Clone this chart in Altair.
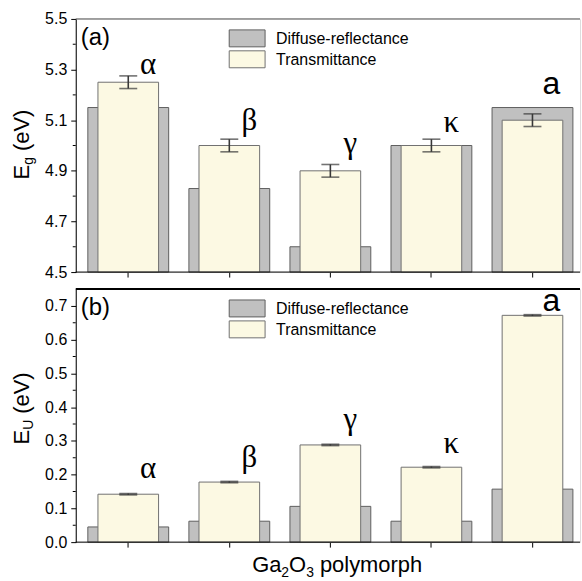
import altair as alt
import pandas as pd

# ---- data -------------------------------------------------------------
polymorphs = ["α", "β", "γ", "κ", "a"]
series_names = ["Diffuse-reflectance", "Transmittance"]

# (a) optical band gap E_g (eV)
eg_diffuse = [5.15, 4.83, 4.60, 5.00, 5.15]
eg_trans = [5.25, 5.00, 4.90, 5.00, 5.10]
eg_err = [0.025, 0.025, 0.025, 0.025, 0.025]
eg_label_y = [5.283, 5.063, 4.972, 5.055, 5.205]
eg_major = [4.5, 4.7, 4.9, 5.1, 5.3, 5.5]
eg_minor = [4.6, 4.8, 5.0, 5.2, 5.4]

# (b) Urbach energy E_U (eV)
eu_diffuse = [0.045, 0.062, 0.106, 0.062, 0.157]
eu_trans = [0.142, 0.178, 0.288, 0.222, 0.672]
eu_err = [0.002, 0.002, 0.002, 0.002, 0.002]
eu_label_y = [0.189, 0.224, 0.336, 0.265, 0.684]
eu_major = [0.0, 0.1, 0.2, 0.3, 0.4, 0.5, 0.6, 0.7]
eu_minor = [0.05, 0.15, 0.25, 0.35, 0.45, 0.55, 0.65]

# ---- style ------------------------------------------------------------
W, H = 506, 254
GRAY, GRAY_EDGE = "#c0c0c0", "#5e5e5e"
CREAM, CREAM_EDGE = "#fcf9e3", "#707070"
ERR = "#383838"
SANS, SERIF = "Liberation Sans", "Liberation Serif"
TITLE_SIZE, SUB_SIZE = 22, 14


def one_row():
    return alt.Chart(pd.DataFrame({"k": [0]}))


def text_piece(txt, x, y, size, angle=0, baseline="alphabetic"):
    return one_row().mark_text(
        text=txt, font=SANS, fontSize=size, color="black",
        align="left", baseline=baseline, angle=angle,
    ).encode(x=alt.value(x), y=alt.value(y))


def panel(diffuse, trans, err, label_y, major, minor, domain,
          tag, sub, title_start, border_color, border_width, extra):
    df = pd.DataFrame({
        "polymorph": polymorphs,
        "diffuse": diffuse,
        "trans": trans,
        "err": err,
        "label_y": label_y,
    })
    df["lo"] = df["trans"] - df["err"]
    df["hi"] = df["trans"] + df["err"]
    df["base"] = domain[0]

    x = alt.X(
        "polymorph:N", sort=polymorphs,
        scale=alt.Scale(range=[2, 509], paddingInner=0, paddingOuter=0),
        axis=alt.Axis(title=None, labels=False, domain=False, ticks=True,
                      tickSize=5, tickColor="black", tickWidth=1, grid=False),
    )
    yscale = alt.Scale(domain=domain, nice=False, zero=False)
    yaxis = alt.Axis(
        title=None, values=major, grid=False, format=".1f",
        labelOverlap=False, labelFont=SANS, labelFontSize=16,
        labelColor="black", labelPadding=4,
        tickSize=5, tickColor="black", tickWidth=1,
        domainColor="black", domainWidth=1,
    )

    base = alt.Chart(df)
    gray = base.mark_bar(
        width=alt.RelativeBandSize(0.8), fill=GRAY, stroke=GRAY_EDGE,
        strokeWidth=1,
    ).encode(x=x, y=alt.Y("diffuse:Q", scale=yscale, axis=yaxis), y2="base:Q")
    cream = base.mark_bar(
        width=alt.RelativeBandSize(0.6), fill=CREAM, stroke=CREAM_EDGE,
        strokeWidth=1,
    ).encode(x=x, y=alt.Y("trans:Q", scale=yscale, axis=yaxis), y2="base:Q")
    err_line = base.mark_rule(color=ERR, strokeWidth=1.6).encode(
        x=x, y=alt.Y("lo:Q", scale=yscale, axis=yaxis), y2="hi:Q")
    cap_lo = base.mark_tick(color=ERR, size=18, thickness=1.6).encode(
        x=x, y=alt.Y("lo:Q", scale=yscale, axis=yaxis))
    cap_hi = base.mark_tick(color=ERR, size=18, thickness=1.6).encode(
        x=x, y=alt.Y("hi:Q", scale=yscale, axis=yaxis))

    greek = base.transform_filter(alt.datum.polymorph != "a").mark_text(
        font=SERIF, fontSize=31, color="black", align="center",
        baseline="alphabetic", dx=20,
    ).encode(x=x, y=alt.Y("label_y:Q", scale=yscale, axis=yaxis),
             text="polymorph:N")
    latin = base.transform_filter(alt.datum.polymorph == "a").mark_text(
        font=SANS, fontSize=32, color="black", align="center",
        baseline="alphabetic", dx=19,
    ).encode(x=x, y=alt.Y("label_y:Q", scale=yscale, axis=yaxis),
             text="polymorph:N")

    # minor ticks on the y axis, halfway between labelled ticks
    minor_ticks = alt.Chart(pd.DataFrame({"v": minor})).mark_rule(
        color="black", strokeWidth=1,
    ).encode(x=alt.value(-3), x2=alt.value(0),
             y=alt.Y("v:Q", scale=yscale, axis=yaxis))

    # frame lines: top border and bottom axis line
    top_line = one_row().mark_rule(color=border_color, strokeWidth=border_width).encode(
        x=alt.value(0), x2=alt.value(W), y=alt.value(0))
    bottom_line = one_row().mark_rule(color="black", strokeWidth=1).encode(
        x=alt.value(0), x2=alt.value(W), y=alt.value(H))

    # legend swatches and names
    legend = []
    for i, (name, fill, edge) in enumerate(
            zip(series_names, [GRAY, CREAM], [GRAY_EDGE, CREAM_EDGE])):
        legend.append(
            alt.Chart(pd.DataFrame({"series": [name]})).mark_rect(
                fill=fill, stroke=edge, strokeWidth=1,
            ).encode(x=alt.value(154), x2=alt.value(190),
                     y=alt.value(11 + 21 * i), y2=alt.value(28 + 21 * i))
        )
        legend.append(
            alt.Chart(pd.DataFrame({"series": [name]})).mark_text(
                font=SANS, fontSize=16, color="black", align="left",
                baseline="middle",
            ).encode(x=alt.value(201), y=alt.value(20 + 21 * i),
                     text="series:N")
        )

    # panel tag and rotated y title  E_sub (eV)
    s = title_start
    e_w = 0.667 * TITLE_SIZE
    sub_w = (0.722 if sub == "U" else 0.556) * SUB_SIZE
    pieces = [
        text_piece(tag, 5, 26, 24),
        text_piece("E", -47, s, TITLE_SIZE, angle=270),
        text_piece(sub, -43, s - e_w, SUB_SIZE, angle=270),
        text_piece("(eV)", -47, s - e_w - sub_w - 6, TITLE_SIZE, angle=270),
    ]

    return alt.layer(
        gray, cream, err_line, cap_lo, cap_hi, greek, latin, minor_ticks,
        top_line, bottom_line, *legend, *pieces, *extra,
    ).properties(width=W, height=H)


def anchor(y):
    # white hairline that fixes the outer extent of the page
    return one_row().mark_rule(color="white", strokeWidth=1).encode(
        x=alt.value(-74.5), x2=alt.value(-73.5), y=alt.value(y))


# x title  Ga2O3 polymorph, under the lower panel
xt_y = 284
x_title = [
    text_piece("Ga", 177, xt_y, TITLE_SIZE),
    text_piece("2", 206.3, xt_y + 5, SUB_SIZE),
    text_piece("O", 214.1, xt_y, TITLE_SIZE),
    text_piece("3", 231.2, xt_y + 5, SUB_SIZE),
    text_piece("polymorph", 245, xt_y, TITLE_SIZE),
]

top = panel(
    eg_diffuse, eg_trans, eg_err, eg_label_y, eg_major, eg_minor, [4.5, 5.5],
    "(a)", "g", 161, "#555555", 1, [anchor(-16.5)],
)
bottom = panel(
    eu_diffuse, eu_trans, eu_err, eu_label_y, eu_major, eu_minor, [0.0, 0.75],
    "(b)", "U", 156, "black", 2, [anchor(292.5), *x_title],
)

chart = alt.vconcat(top, bottom, spacing=17, bounds="flush").properties(
    padding=0,
).configure_view(stroke=None).configure(background="white")

chart.save("out.html", embed_options={"renderer": "svg", "actions": False})
